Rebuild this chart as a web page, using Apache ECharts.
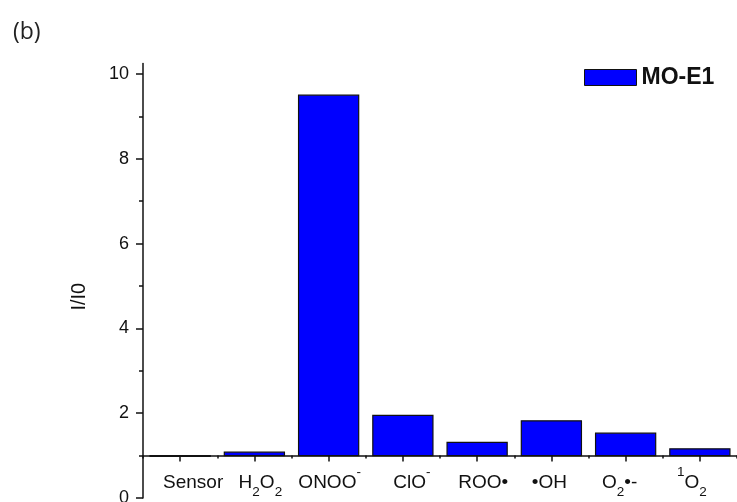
<!DOCTYPE html>
<html>
<head>
<meta charset="utf-8">
<script src="https://cdn.jsdelivr.net/npm/echarts@6/dist/echarts.min.js"></script>
<style>
  html, body { margin: 0; padding: 0; background: #fff; }
  #chart { width: 737px; height: 502px; }
</style>
</head>
<body>
<div id="chart"></div>
<script>
// Species tested, response ratio I/I0 for each
const categories = ['Sensor', 'H2O2', 'ONOO-', 'ClO-', 'ROO•', '•OH', 'O2•-', '1O2'];
const tickLabels = [
  '{n|Sensor}',
  '{n|H}{sub|2}{n|O}{sub|2}',
  '{n|ONOO}{sup|-}',
  '{n|ClO}{sup|-}',
  '{n|ROO•}',
  '{n|•OH}',
  '{n|O}{sub|2}{n|•-}',
  '{sup|1}{n|O}{sub|2}'
];
const ratios = [0.98, 1.08, 9.50, 1.95, 1.31, 1.82, 1.53, 1.16];
const seriesName = 'MO-E1';
const baseline = 1;          // bars rise from the category axis, which crosses at I/I0 = 1
const yTicks = [0, 2, 4, 6, 8, 10];
const yMin = 0, yMax = 10.25;

// Hand placement of each category label relative to its tick (px, + = right)
const labelNudge = [13, 6, 1, 9, 6, -2, -6, -8];

const FONT = '"Liberation Sans", Arial, sans-serif';
const chart = echarts.init(document.getElementById('chart'), null, { renderer: 'canvas' });

const labelRich = {
  n:   { fontFamily: FONT, fontSize: 19, lineHeight: 34, verticalAlign: 'middle', color: '#111' },
  sub: { fontFamily: FONT, fontSize: 13.5, lineHeight: 16, verticalAlign: 'bottom', color: '#111' },
  sup: { fontFamily: FONT, fontSize: 13.5, lineHeight: 10, verticalAlign: 'top', color: '#111' }
};
labelNudge.forEach((d, i) => {
  labelRich['g' + i] = { width: Math.abs(d) * 2, fontSize: 1, lineHeight: 1, verticalAlign: 'middle' };
});
const labelText = (i) => {
  const d = labelNudge[i];
  const gap = '{g' + i + '| }';
  return d >= 0 ? gap + tickLabels[i] : tickLabels[i] + gap;
};

const option = {
  backgroundColor: '#fff',
  animation: false,
  title: {
    text: '(b)', left: 8, top: 16,
    textStyle: { fontFamily: '"Open Sans", sans-serif', fontSize: 23, fontWeight: 'normal', color: '#222' }
  },
  legend: {
    left: 579, top: 61,
    itemWidth: 52, itemHeight: 16, itemGap: 6,
    data: [{ name: seriesName, icon: 'rect', itemStyle: { color: '#0000FF', borderColor: '#111', borderWidth: 1 } }],
    textStyle: { fontFamily: FONT, fontSize: 23, fontWeight: 'bold', color: '#111' }
  },
  grid: { left: 143, right: 0, top: 63.4, bottom: 4, outerBoundsMode: 'none', containLabel: false },
  xAxis: [
    {
      type: 'category', data: categories, position: 'bottom', offset: 0,
      axisLine: { show: true, lineStyle: { color: '#111', width: 1.5 } },
      axisTick: { show: true, alignWithLabel: true, length: 6, inside: false, lineStyle: { color: '#111', width: 1.5 } },
      axisLabel: {
        interval: 0, margin: 10,
        formatter: (v, i) => labelText(i),
        rich: labelRich
      },
      splitLine: { show: false }
    },
    {
      type: 'category', data: categories, position: 'bottom', offset: 0,
      axisLine: { show: false },
      axisTick: { show: true, alignWithLabel: false, interval: 0, length: 3, lineStyle: { color: '#111', width: 1.5 } },
      axisLabel: { show: false },
      splitLine: { show: false }
    }
  ],
  yAxis: {
    type: 'value', min: yMin, max: yMax, interval: 2,
    name: 'I/I0', nameLocation: 'middle', nameGap: 54, nameRotate: 90,
    nameTextStyle: { fontFamily: FONT, fontSize: 20, color: '#111', padding: [0, 32, 0, 0] },
    axisLine: { show: true, lineStyle: { color: '#111', width: 1.5 } },
    axisTick: { show: true, length: 7, customValues: yTicks, lineStyle: { color: '#111', width: 1.5 } },
    minorTick: { show: true, splitNumber: 2, length: 4, lineStyle: { color: '#111', width: 1.5 } },
    axisLabel: { fontFamily: FONT, fontSize: 18, color: '#111', margin: 14, customValues: yTicks },
    splitLine: { show: false }
  },
  series: [{
    name: seriesName,
    type: 'custom',
    xAxisIndex: 0,
    yAxisIndex: 0,
    itemStyle: { color: '#0000FF', borderColor: '#111', borderWidth: 1 },
    encode: { x: 0, y: 1 },
    data: ratios.map((v, i) => [i, v]),
    renderItem: function (params, api) {
      const idx = api.value(0);
      const top = api.coord([idx, api.value(1)]);
      const base = api.coord([idx, baseline]);
      const w = api.size([1, 0])[0] * 0.81;
      return {
        type: 'rect',
        shape: { x: top[0] - w / 2, y: Math.min(top[1], base[1]), width: w, height: Math.max(Math.abs(base[1] - top[1]), 0.8) },
        style: { fill: '#0000FF', stroke: '#111', lineWidth: 1.2 }
      };
    },
    z: 1
  }]
};

chart.setOption(option);

// Move the category axis up so it crosses the value axis at the baseline
const pBase = chart.convertToPixel({ yAxisIndex: 0 }, baseline);
const pMin = chart.convertToPixel({ yAxisIndex: 0 }, yMin);
const shift = pBase - pMin;
chart.setOption({ xAxis: [{ offset: shift }, { offset: shift }] });
</script>
</body>
</html>
